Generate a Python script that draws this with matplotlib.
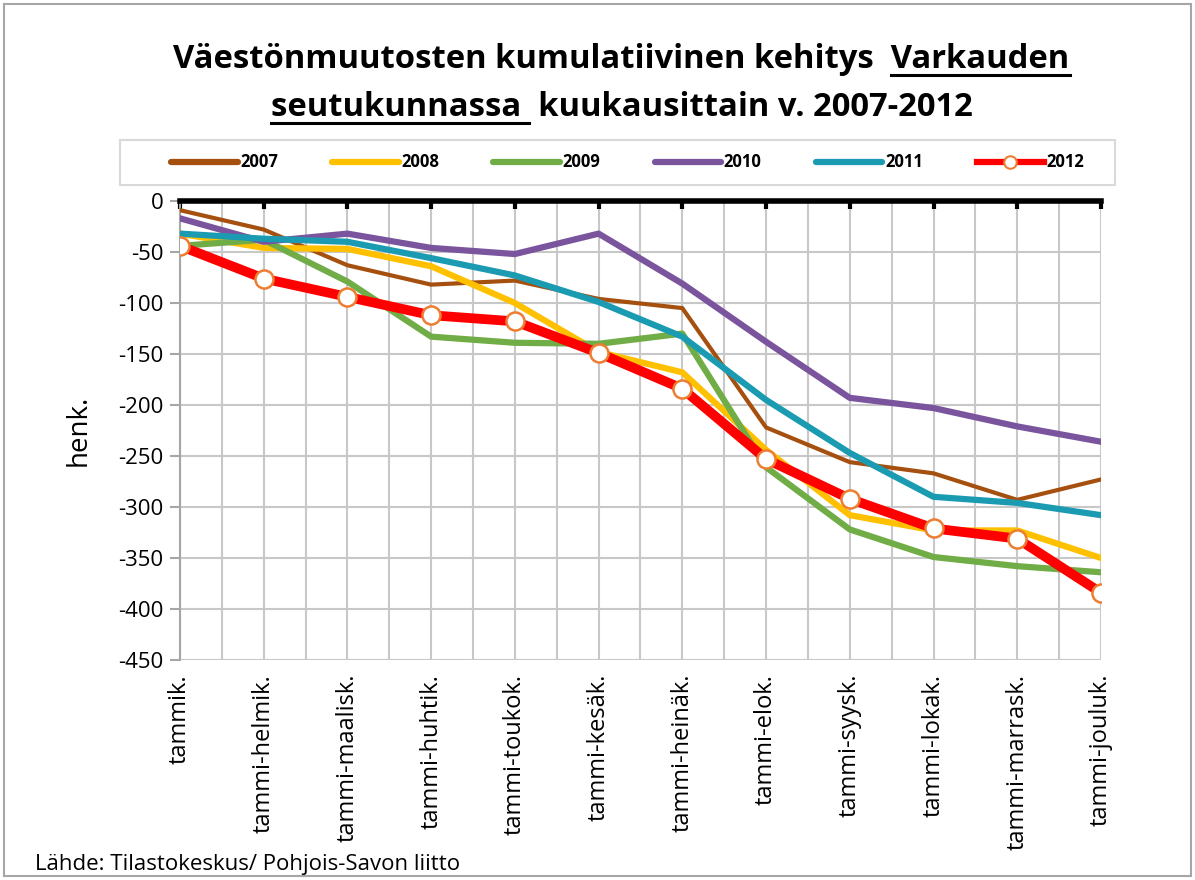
import numpy as np
import matplotlib
matplotlib.use("Agg")
import matplotlib.pyplot as plt
from matplotlib.patches import Rectangle
from matplotlib.lines import Line2D

plt.rcParams['font.family'] = ['Open Sans', 'DejaVu Sans']
plt.rcParams['axes.unicode_minus'] = False

months = ['tammik.', 'tammi-helmik.', 'tammi-maalisk.', 'tammi-huhtik.', 'tammi-toukok.',
          'tammi-kesäk.', 'tammi-heinäk.', 'tammi-elok.', 'tammi-syysk.', 'tammi-lokak.',
          'tammi-marrask.', 'tammi-jouluk.']

y2007 = [-9, -28, -63, -82, -78, -96, -105, -222, -256, -267, -293, -273]
y2008 = [-32, -46, -47, -64, -100, -148, -168, -244, -308, -323, -323, -350]
y2009 = [-44, -38, -79, -133, -139, -140, -130, -261, -322, -349, -358, -364]
y2010 = [-17, -40, -32, -46, -52, -32, -81, -138, -193, -203, -221, -236]
y2011 = [-32, -37, -40, -56, -73, -99, -133, -195, -247, -290, -296, -308]
y2012 = [-44, -76, -94, -112, -118, -149, -184, -253, -292, -321, -331, -384]

years = ['2007', '2008', '2009', '2010', '2011', '2012']
colors = ['#A5500F', '#FFC000', '#70AD47', '#7A559E', '#1B9BB2', '#FF0000']

fig = plt.figure(figsize=(11.95, 8.80), dpi=100)
ax = fig.add_axes([0.1506, 0.25, 0.7707, 0.5216])

x = np.arange(len(months))
series = [y2007, y2008, y2009, y2010, y2011]
widths = [3.0, 4.5, 4.5, 4.5, 4.5]
for vals, c, lw in zip(series, colors[:5], widths):
    ax.plot(x, vals, color=c, lw=lw, solid_capstyle='round', solid_joinstyle='round', zorder=3)
ax.plot(x, y2012, color=colors[5], lw=7, marker='o', markersize=13,
        markerfacecolor='white', markeredgecolor='#ED7D31', markeredgewidth=1.8,
        solid_capstyle='round', solid_joinstyle='round', zorder=4)

ax.set_xlim(0, 11)
ax.set_ylim(-450, 0)
ax.set_yticks(np.arange(-450, 1, 50))
ax.set_xticks(x)
ax.set_xticklabels(months, rotation=90, fontsize=17)
ax.set_xticks(np.arange(0.5, 11, 1), minor=True)
ax.tick_params(axis='y', labelsize=16, color='#A6A6A6', length=7, width=1.5, pad=5)
ax.tick_params(axis='x', which='major', top=True, bottom=False, direction='in',
               length=6, width=3, color='black', pad=10)
ax.tick_params(axis='x', which='minor', top=False, bottom=False)

ax.grid(True, which='both', color='#C8C8C8', lw=1.5, zorder=0)
for s in ['bottom', 'right']:
    ax.spines[s].set_visible(False)
ax.spines['left'].set_color('#A6A6A6')
ax.spines['left'].set_linewidth(1.5)
ax.spines['top'].set_color('black')
ax.spines['top'].set_linewidth(4)
ax.set_axisbelow(True)

ax.set_ylabel('henk.', fontsize=20, labelpad=18)

# legend: separate handles, all thick like in Excel legend
leg_handles = [Line2D([], [], color=c, lw=4.5, solid_capstyle='round') for c in colors[:5]]
leg_handles.append(Line2D([], [], color=colors[5], lw=4.5, marker='o', markersize=9,
                          markerfacecolor='white', markeredgecolor='#ED7D31', markeredgewidth=1.5))
leg = fig.legend(handles=leg_handles, labels=years, loc='center', ncol=6,
                 bbox_to_anchor=(0.525, 0.8155), frameon=False,
                 prop={'weight': 'bold', 'size': 12}, handlelength=4.0,
                 columnspacing=3.25, handletextpad=0.15)
fig.add_artist(Rectangle((0.1004, 0.7898), 0.8327, 0.0511, transform=fig.transFigure,
                         fill=False, edgecolor='#D9D9D9', lw=1.5))

# title with underlined parts
fig.canvas.draw()
renderer = fig.canvas.get_renderer()
TS = 23.6


def title_line(parts, ypos):
    # parts: list of (text, underline)
    full = ''.join(p for p, _ in parts)
    t = fig.text(0.52, ypos, full, ha='center', va='baseline', fontsize=TS, fontweight='bold')
    bb = t.get_window_extent(renderer)
    x0 = bb.x0
    for p, ul in parts:
        tmp = fig.text(0, 0, p, fontsize=TS, fontweight='bold')
        w = tmp.get_window_extent(renderer).width
        tmp.remove()
        if ul:
            yy = ypos * fig.bbox.height - 7
            fig.add_artist(Line2D([x0 / fig.bbox.width, (x0 + w) / fig.bbox.width],
                                  [yy / fig.bbox.height] * 2, color='black', lw=2.2))
        x0 += w


title_line([('Väestönmuutosten kumulatiivinen kehitys\u00a0\u00a0', False), ('Varkauden', True)], 0.9227)
title_line([('seutukunnassa\u00a0', True), ('\u00a0kuukausittain v. 2007-2012', False)], 0.868)

fig.text(0.029, 0.006, 'Lähde: Tilastokeskus/ Pohjois-Savon liitto', fontsize=16, ha='left', va='bottom')

fig.add_artist(Rectangle((0.003, 0.004), 0.994, 0.992, transform=fig.transFigure,
                         fill=False, edgecolor='#A6A6A6', lw=1.5))

fig.savefig('out.png', dpi=100)
